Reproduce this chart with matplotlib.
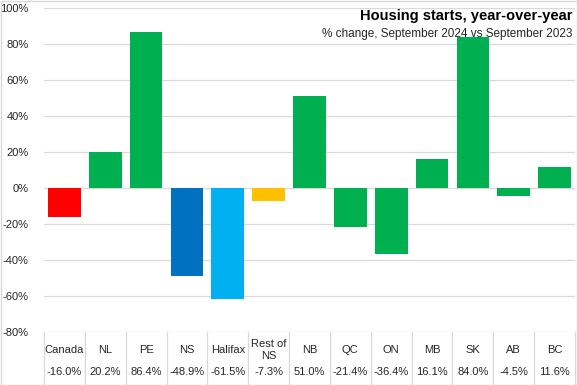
import matplotlib
matplotlib.use("Agg")
import matplotlib.pyplot as plt
from matplotlib.patches import Rectangle

categories = ["Canada", "NL", "PE", "NS", "Halifax", "Rest of\nNS", "NB", "QC", "ON", "MB", "SK", "AB", "BC"]
values = [-16.0, 20.2, 86.4, -48.9, -61.5, -7.3, 51.0, -21.4, -36.4, 16.1, 84.0, -4.5, 11.6]
colors = ["#FF0000", "#00B050", "#00B050", "#0070C0", "#00B0F0", "#FFC000",
          "#00B050", "#00B050", "#00B050", "#00B050", "#00B050", "#00B050", "#00B050"]
yticks = [-80, -60, -40, -20, 0, 20, 40, 60, 80, 100]

plt.rcParams["font.family"] = ["Liberation Sans", "DejaVu Sans"]
TXT = "#262626"; GRID = "#d9d9d9"

fig = plt.figure(figsize=(5.77, 3.85), dpi=100)
fig.patch.set_facecolor("white")
ax = fig.add_axes([44/577, 1-332/385, 531/577, 324/385])

x = list(range(len(categories)))
ax.bar(x, values, width=0.8, color=colors, zorder=3)
ax.set_xlim(-0.5, len(categories)-0.5)
ax.set_ylim(-80, 100)
ax.set_yticks(yticks)
ax.set_yticklabels([f"{t}%" for t in yticks], fontsize=8, color=TXT)
ax.tick_params(axis="y", length=0, pad=11)
ax.set_xticks([])
ax.grid(axis="y", color=GRID, lw=0.9, zorder=0)
for s in ax.spines.values():
    s.set_visible(False)

# data table below the plot
trans = ax.get_xaxis_transform()
for i in range(len(categories)+1):
    ax.plot([i-0.5, i-0.5], [0, -53/324], color=GRID, lw=0.9, transform=trans, clip_on=False)
for i, (c, v) in enumerate(zip(categories, values)):
    ax.text(i, -18/324, c, transform=trans, ha="center", va="center", fontsize=8,
            color=TXT, linespacing=1.2)
    ax.text(i, -40/324, f"{v:.1f}%", transform=trans, ha="center", va="center",
            fontsize=8, color=TXT)

ax.text(0.995, 0.976, "Housing starts, year-over-year", transform=ax.transAxes,
        ha="right", va="center", fontsize=10.5, fontweight="bold", color="black")
ax.text(0.995, 0.92, "% change, September 2024 vs September 2023", transform=ax.transAxes,
        ha="right", va="center", fontsize=8.5, color=TXT)

fig.add_artist(Rectangle((0.5/577, 0.5/385), 576/577, 384/385, transform=fig.transFigure,
                         fill=False, edgecolor=GRID, lw=1))

fig.savefig("out.png", facecolor="white")
